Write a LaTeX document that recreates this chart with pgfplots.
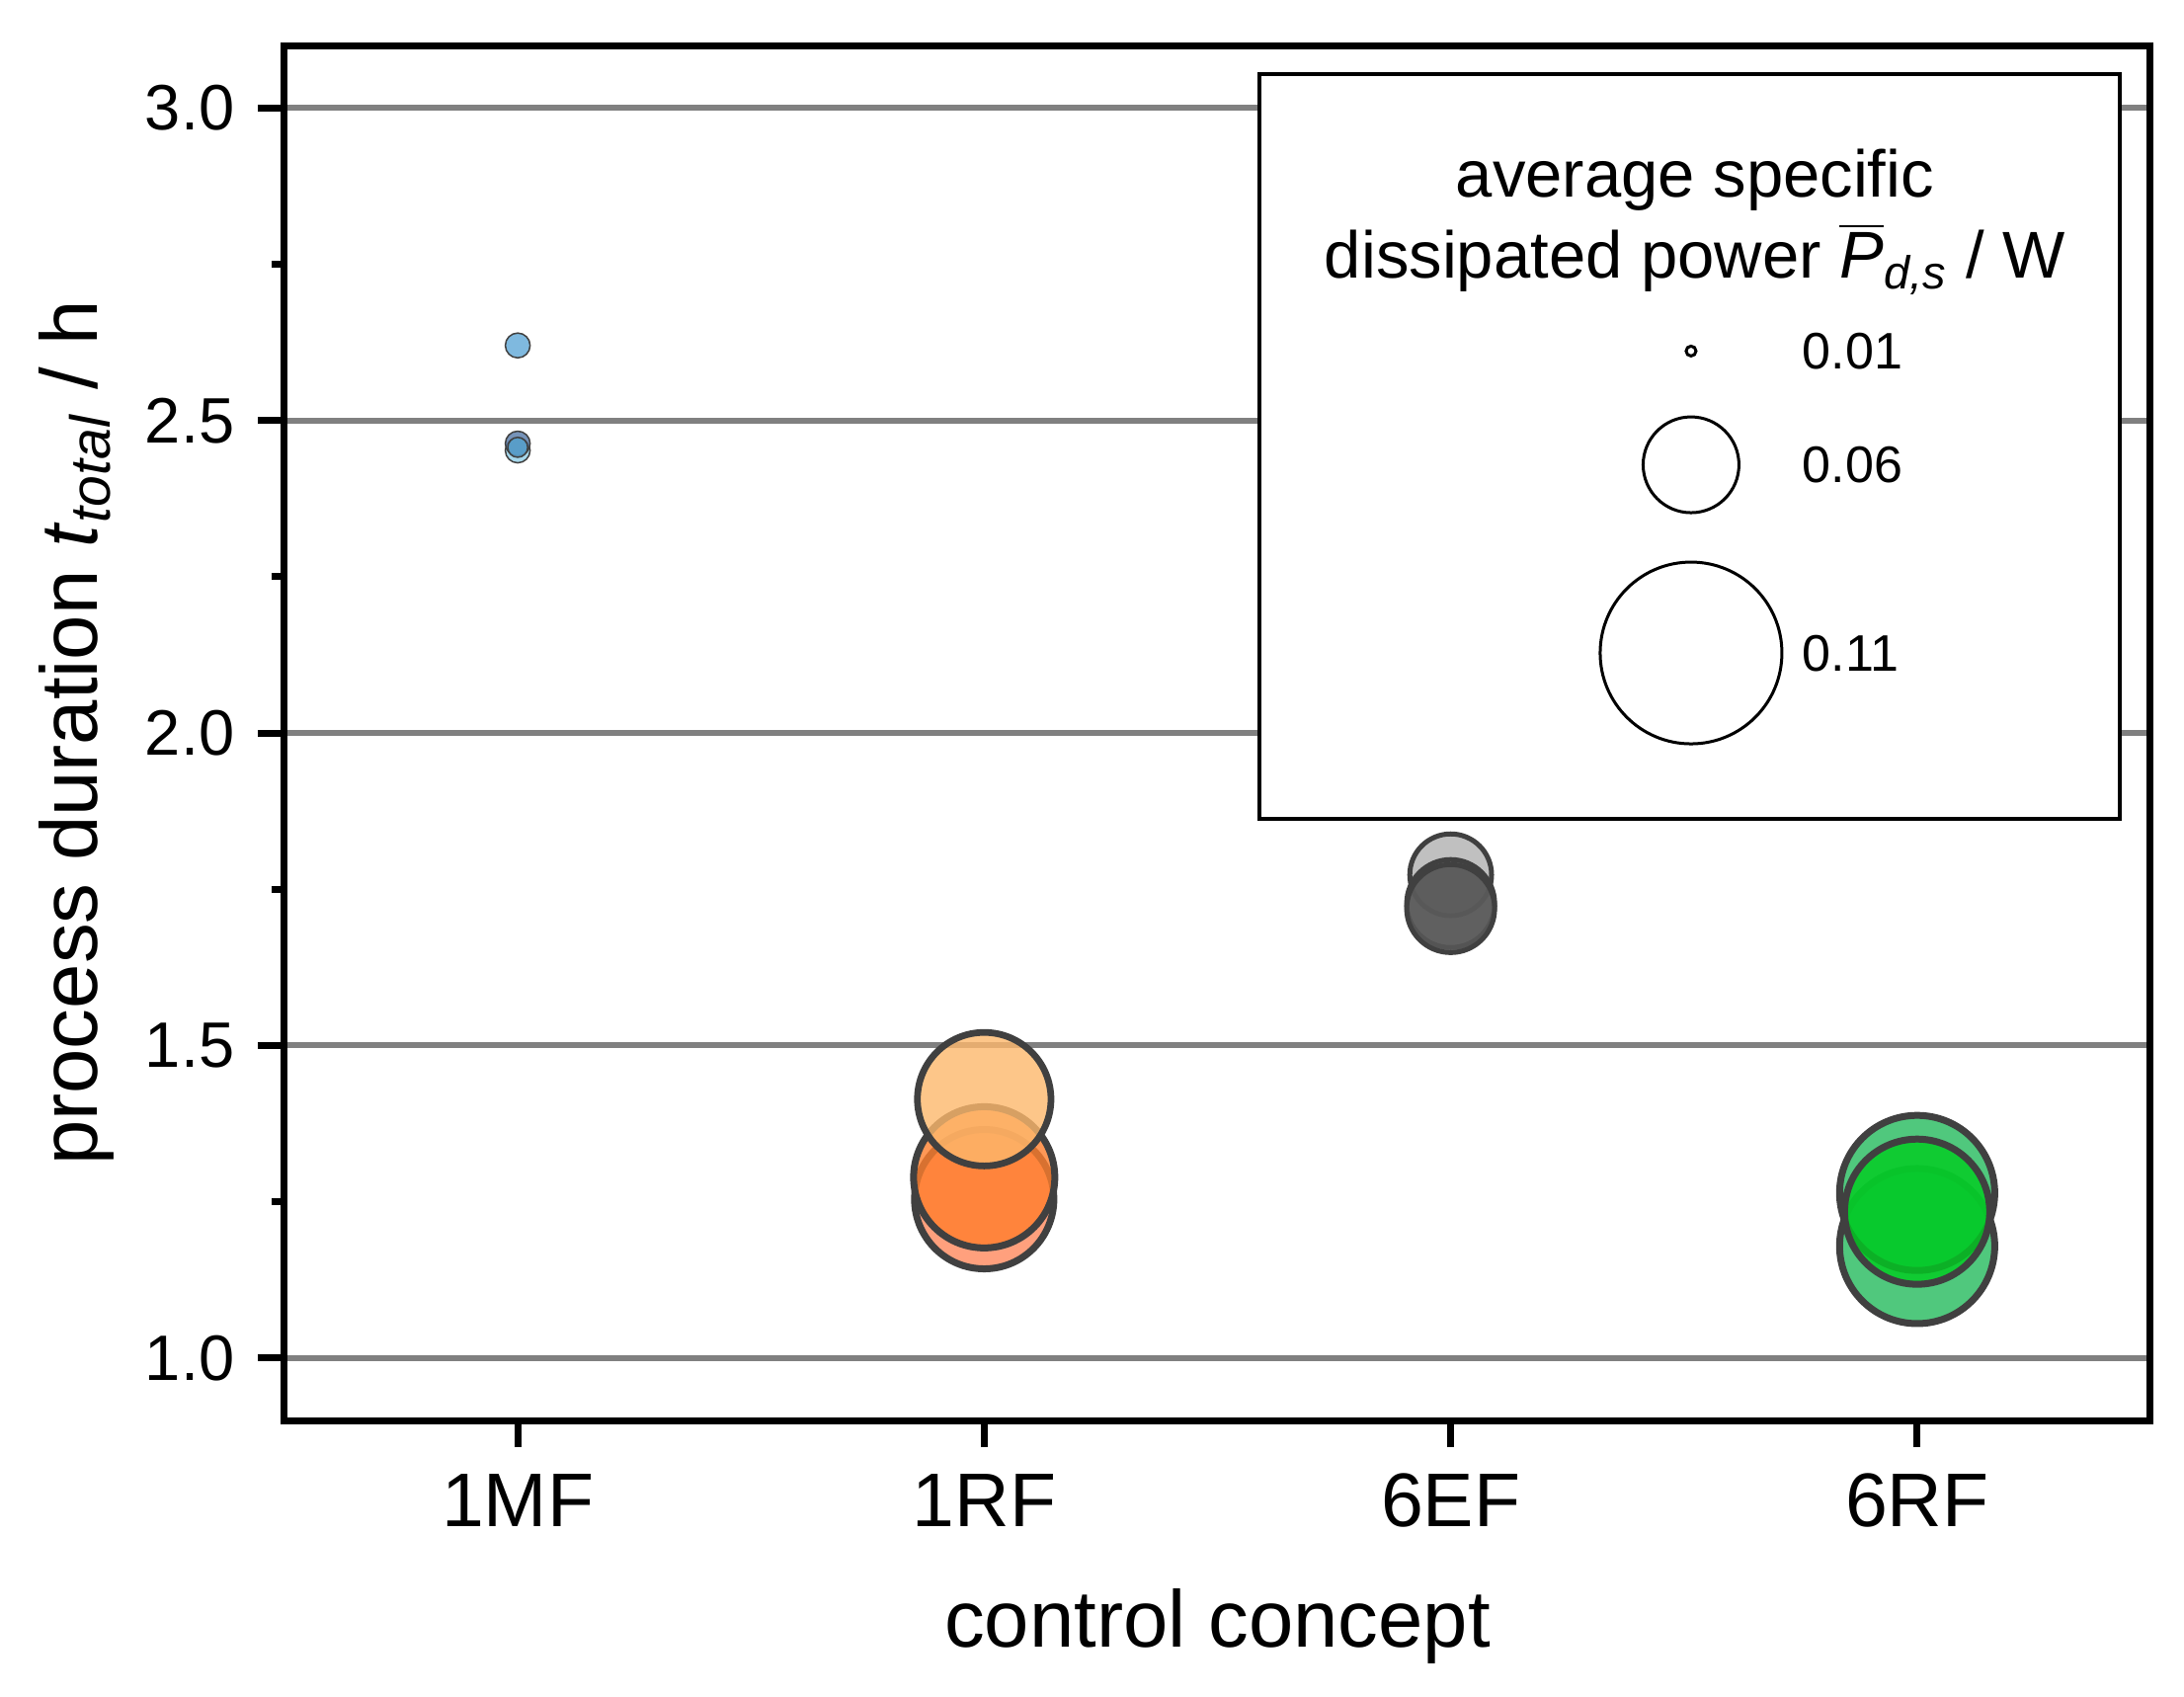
\documentclass[border=0pt]{standalone}
\usepackage{pgfplots}
\pgfplotsset{compat=1.18}
\usepackage{fontspec}
\setmainfont{Liberation Sans}

\definecolor{gridgray}{RGB}{128,128,128}
\definecolor{edgegray}{RGB}{64,64,64}
\definecolor{mfA}{RGB}{95,168,215}
\definecolor{mfB}{RGB}{143,205,230}
\definecolor{mfC}{RGB}{84,120,168}
\definecolor{mfD}{RGB}{88,162,206}
\definecolor{rfA}{RGB}{255,136,92}
\definecolor{rfB}{RGB}{255,126,44}
\definecolor{rfC}{RGB}{253,184,108}
\definecolor{efA}{RGB}{176,176,176}
\definecolor{efB}{RGB}{90,90,90}
\definecolor{grA}{RGB}{36,186,92}
\definecolor{grB}{RGB}{0,205,32}

% bubble radius follows the average specific dissipated power P (column 3)
% #1 fill colour, #2 edge width in pt
\pgfplotsset{
  bubble/.style 2 args={scatter, only marks, mark=*, forget plot,
    line width=#2pt, mark options={line width=#2pt},
    fill opacity=0.8, point meta=\thisrow{P},
    scatter/use mapped color={draw=edgegray, fill=#1},
    visualization depends on={\thisrow{P} \as \psize},
    scatter/@pre marker code/.append style={
        /tikz/mark size={174*\psize-0.44-#2/2}}},
}

\begin{document}
\begin{tikzpicture}
\begin{axis}[
    scale only axis,
    width=377.8pt, height=278.4pt,
    xmin=-0.5, xmax=3.5, ymin=0.9, ymax=3.1,
    xtick={0,1,2,3}, xticklabels={1MF,1RF,6EF,6RF},
    ytick={1,1.5,2,2.5,3}, minor y tick num=1,
    tick pos=left, tick align=outside,
    major tick length=5.4pt, minor tick length=2.6pt,
    tick style={black, line width=1.4pt},
    axis line style={line width=1.4pt},
    ymajorgrids, grid style={gridgray, line width=1.2pt},
    /pgf/number format/assume math mode=true,
    yticklabel style={/pgf/number format/fixed, /pgf/number format/fixed zerofill,
        /pgf/number format/precision=1, font=\fontsize{13}{15}\selectfont, xshift=-1.2pt},
    xticklabel style={font=\fontsize{15.4}{18}\selectfont, yshift=-1.9pt},
    xlabel={control concept},
    xlabel style={font=\fontsize{16.3}{19}\selectfont, at={(axis description cs:0.5,-0.165)}, anchor=base},
    ylabel={process duration \textit{t}\textsubscript{\textit{total}} / h},
    ylabel style={font=\fontsize{16.3}{19}\selectfont, at={(axis description cs:-0.1112,0.5)}, anchor=center},
    legend style={draw=none, fill=none, inner sep=0pt, row sep=9.4pt, column sep=3.9pt,
        font=\fontsize{10.4}{12}\selectfont, cells={anchor=west},
        nodes={inner sep=0pt, text depth=0pt},
        at={(0.7038,0.7915)}, anchor=north west},
]

% legend frame and title
\draw[black, line width=0.7pt, fill=white] (rel axis cs:0.5225,0.4375) rectangle (rel axis cs:0.9836,0.979);
\node[font=\fontsize{13.4}{16}\selectfont, anchor=base] at (rel axis cs:0.756,0.8894) {average specific};
\node[font=\fontsize{13.4}{16}\selectfont, anchor=base] at (rel axis cs:0.756,0.8305)
    {dissipated power $\overline{\mbox{\itshape P}}$\textsubscript{\itshape d,s} / W};

% 1MF
\addplot[bubble={mfA}{0.3}] table {
x t P
0 2.620 0.0178
};
\addplot[bubble={mfB}{0.3}] table {
x t P
0 2.452 0.0178
};
\addplot[bubble={mfC}{0.3}] table {
x t P
0 2.463 0.0178
};
\addplot[bubble={mfD}{0.3}] table {
x t P
0 2.457 0.0150
};
% 1RF
\addplot[bubble={rfA}{1.4}] table {
x t P
1 1.254 0.0876
};
\addplot[bubble={rfB}{1.4}] table {
x t P
1 1.289 0.0887
};
\addplot[bubble={rfC}{1.35}] table {
x t P
1 1.414 0.0841
};
% 6EF
\addplot[bubble={efA}{1.0}] table {
x t P
2 1.773 0.0530
};
\addplot[bubble={efB}{1.0}] table {
x t P
2 1.727 0.0566
2 1.719 0.0566
};
% 6RF
\addplot[bubble={grA}{1.4}] table {
x t P
3 1.179 0.0968
3 1.264 0.0968
};
\addplot[bubble={grB}{1.4}] table {
x t P
3 1.234 0.0910
};

\addlegendimage{legend image code/.code={\draw[black, line width=0.6pt] (0pt,0pt) circle[radius={(174*0.01-0.74)*1pt}];}}
\addlegendentry{0.01}
\addlegendimage{legend image code/.code={\draw[black, line width=0.6pt] (0pt,0pt) circle[radius={(174*0.06-0.74)*1pt}];}}
\addlegendentry{0.06}
\addlegendimage{legend image code/.code={\draw[black, line width=0.6pt] (0pt,0pt) circle[radius={(174*0.11-0.74)*1pt}];}}
\addlegendentry{0.11}
\end{axis}
\pgfresetboundingbox
\path[use as bounding box] (-57.6pt,-55.8pt) rectangle (384.6pt,287.6pt);
\end{tikzpicture}
\end{document}
